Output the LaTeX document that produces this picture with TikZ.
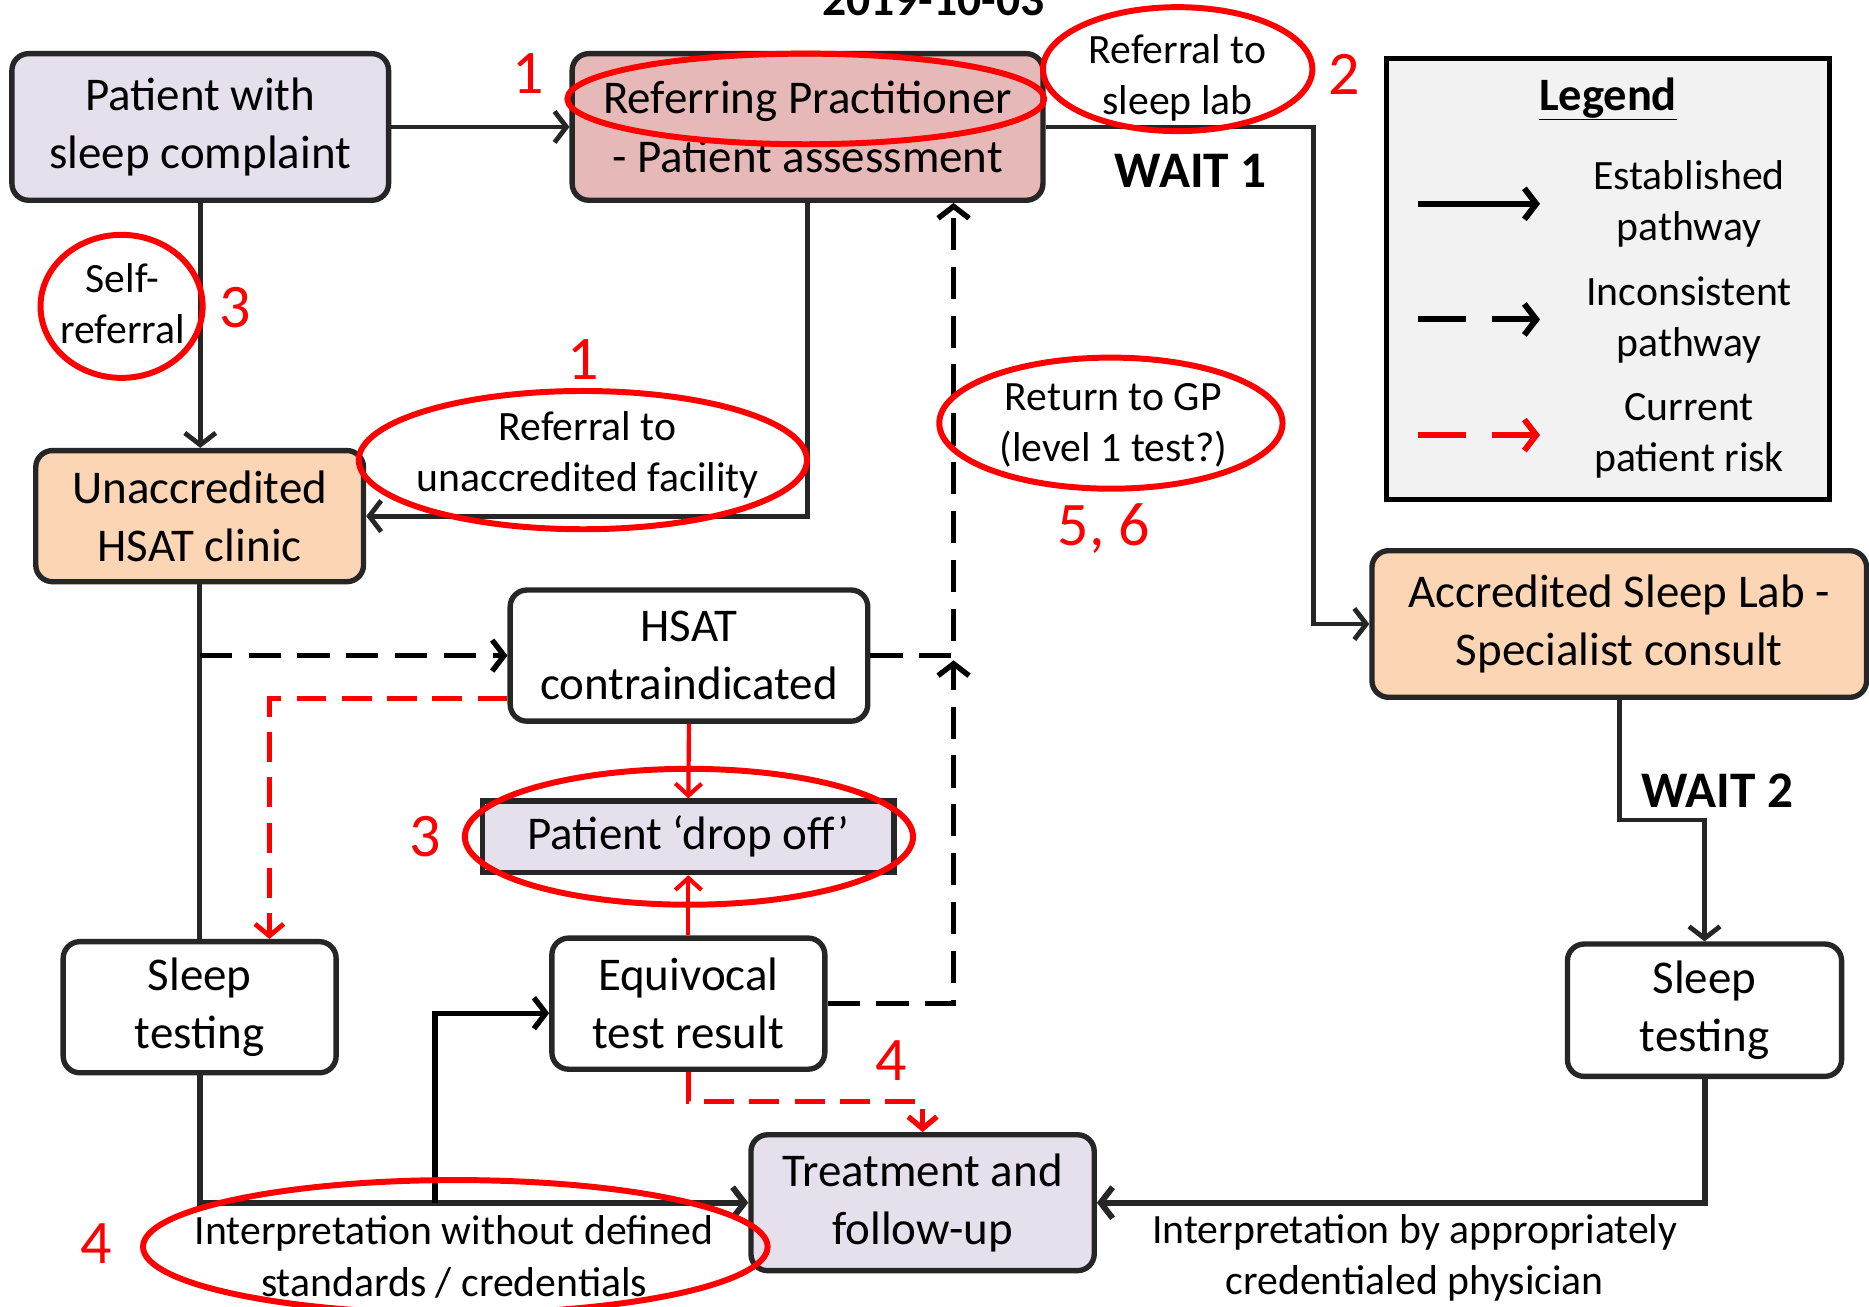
\documentclass[tikz,border=0pt]{standalone}
\usepackage{fontspec}
\setmainfont{Carlito}
\usetikzlibrary{arrows.meta,shapes.geometric,calc}
\definecolor{lav}{HTML}{E6E0EC}
\definecolor{pinkb}{HTML}{E6B9B8}
\definecolor{peach}{HTML}{FCD5B5}
\definecolor{leg}{HTML}{F2F2F2}
\definecolor{dk}{HTML}{262626}
\definecolor{rd}{HTML}{FF0000}
\begin{document}
\begin{tikzpicture}[x=1pt,y=-1pt,
 box/.style={draw=dk, line width=4.5pt, rounded corners=14pt, inner sep=0pt, align=center, font=\fontsize{39.4}{49}\selectfont},
 lbl/.style={inner sep=0pt, align=center, font=\fontsize{35}{43}\selectfont},
 num/.style={inner sep=0pt, text=rd, font=\fontsize{52}{60}\selectfont},
 wait/.style={inner sep=0pt, font=\fontsize{43}{50}\selectfont\bfseries},
 redell/.style={draw=rd, line width=5pt, ellipse, inner sep=0pt},
 conn/.style={draw=dk, line width=4pt, -{Straight Barb[length=10pt,width=26pt]}},
 plainln/.style={draw=dk, line width=4pt},
 dsh/.style={draw=black, line width=4.5pt, dash pattern=on 27pt off 14pt, -{Straight Barb[length=10pt,width=26pt]}},
 rdsh/.style={draw=rd, line width=4pt, dash pattern=on 25pt off 13pt, -{Straight Barb[length=10pt,width=24pt]}},
 rsol/.style={draw=rd, line width=3.5pt, -{Straight Barb[length=10pt,width=22pt]}},
]
\useasboundingbox (0,0) rectangle (1568,1096);
\fill[white] (0,0) rectangle (1568,1096);
\clip (0,0) rectangle (1568,1096);

% title (cut at the top, as in the reference)
\node[font=\fontsize{40}{48}\selectfont\bfseries, anchor=base, inner sep=0pt] (title) at (783,12.6) {2019-10-03};

% boxes
\node[box, fill=lav, minimum width=316pt, minimum height=123pt] (A) at (168,106.5) {Patient with\\sleep complaint};
\node[box, fill=pinkb, minimum width=395pt, minimum height=123pt] (B) at (677.5,106.5) {Referring Practitioner\\- Patient assessment};
\node[box, fill=peach, minimum width=275pt, minimum height=110pt] (C) at (167.5,433) {Unaccredited\\HSAT clinic};
\node[box, fill=white, minimum width=300pt, minimum height=110pt] (D) at (578,550) {HSAT\\contraindicated};
\node[box, fill=lav, rounded corners=0pt, minimum width=345pt, minimum height=60pt] (E) at (577.5,702) {Patient ‘drop off’};
\node[box, fill=white, minimum width=229pt, minimum height=110pt] (F) at (167.5,845) {Sleep\\testing};
\node[box, fill=white, minimum width=229pt, minimum height=110pt] (G) at (577.5,842) {Equivocal\\test result};
\node[box, fill=lav, minimum width=288pt, minimum height=114pt] (H) at (774,1009) {Treatment and\\follow-up};
\node[box, fill=peach, minimum width=415pt, minimum height=123pt] (I) at (1358.5,523.5) {Accredited Sleep Lab -\\Specialist consult};
\node[box, fill=white, minimum width=230pt, minimum height=111pt] (J) at (1430,847.5) {Sleep\\testing};

% legend
\node[draw=black, fill=leg, line width=4.5pt, minimum width=372pt, minimum height=370pt, inner sep=0pt] (legend) at (1349,234) {};
\node[inner sep=0pt, font=\fontsize{39}{46}\selectfont\bfseries] (legtitle) at (1349,83) {\underline{Legend}};
\node[lbl] (leg1) at (1417,171) {Established\\pathway};
\node[lbl] (leg2) at (1417,268.5) {Inconsistent\\pathway};
\node[lbl] (leg3) at (1417,365.5) {Current\\patient risk};
\coordinate (l1a) at (1190,171); \coordinate (l1b) at (1292,171);
\coordinate (l2a) at (1190,268); \coordinate (l2b) at (1292,268);
\coordinate (l3a) at (1190,365); \coordinate (l3b) at (1292,365);
\draw[conn, draw=black, line width=5pt] (l1a) -- (l1b);
\draw[dsh, line width=5pt, dash pattern=on 40pt off 22pt] (l2a) -- (l2b);
\draw[rdsh, line width=5pt, dash pattern=on 40pt off 22pt, -{Straight Barb[length=10pt,width=26pt]}] (l3a) -- (l3b);

% helper coordinates
\coordinate (k1) at (1102,0);
\coordinate (k3) at (800,0);
\coordinate (k4) at (226,0);
\coordinate (k5) at (0,924);
\coordinate (k6) at (365,0);
\coordinate (k7) at (0,688);

% connectors
\draw[conn] (A.east) -- (B.west);
\draw[conn] (B.east) -- (B.east -| k1) -- (k1 |- I.west) -- (I.west);
\draw[conn] (A.south) -- (A.south |- C.north);
\draw[conn] (B.south) -- (B.south |- C.east) -- (C.east);
\draw[plainln] (C.south) -- (C.south |- F.north);
\draw[conn, line width=5pt] (F.south) -- (F.south |- H.west) -- (H.west);
\draw[dsh] (C.south |- D.west) -- (D.west);
\draw[dsh] (D.east) -- (k3 |- D.east) -- (k3 |- B.south);
\draw[dsh] (G.east) -- (k3 |- G.east) -- ([yshift=-4pt]k3 |- D.east);
\draw[rdsh] ([yshift=-36pt]D.west) -| (k4 |- F.north);
\draw[rsol] (D.south) -- (E.north);
\draw[rsol] (G.south |- G.north) -- (E.south);
\draw[rdsh, line width=4.5pt] (G.south) |- (k5 -| H.north) -- (H.north);
\draw[conn, draw=black, line width=4.5pt] (k6 |- H.west) |- ([yshift=-8pt]G.west);
\draw[conn, line width=5pt] (J.south) -- (J.south |- H.east) -- (H.east);
\draw[conn] (I.south) -- (I.south |- k7) -| (J.north);

% labels
\node[lbl] (t1) at (988,65.5) {Referral to\\sleep lab};
\node[wait] (w1) at (999,143) {WAIT 1};
\node[lbl] (t2) at (103,255) {Self-\\referral};
\node[lbl] (t3) at (493,381.5) {Referral to\\unaccredited facility};
\node[lbl] (t4) at (934,357) {Return to GP\\(level 1 test?)};
\node[wait] (w2) at (1441,663) {WAIT 2};
\node[lbl] (t5) at (381,1054.5) {Interpretation without defined\\standards / credentials};
\node[lbl] (t6) at (1187,1055) {Interpretation by appropriately\\credentialed physician};

% red ellipses
\node[redell, minimum width=400pt, minimum height=76pt] (e1) at (676,83) {};
\node[redell, minimum width=226pt, minimum height=104pt] (e2) at (988,58) {};
\node[redell, minimum width=136pt, minimum height=120pt] (e3) at (102,257) {};
\node[redell, minimum width=376pt, minimum height=116pt] (e4) at (489,386) {};
\node[redell, minimum width=288pt, minimum height=110pt] (e5) at (932,355) {};
\node[redell, minimum width=376pt, minimum height=114pt] (e6) at (578,702) {};
\node[redell, minimum width=524pt, minimum height=112pt] (e7) at (382,1046) {};

% red numbers
\node[num] (n1) at (443,62) {1};
\node[num] (n2) at (1128,62) {2};
\node[num] (n3) at (197,258) {3};
\node[num] (n4) at (489,302) {1};
\node[num] (n5) at (926,443) {5, 6};
\node[num] (n6) at (357,702) {3};
\node[num] (n7) at (748,890) {4};
\node[num] (n8) at (81,1043) {4};
\end{tikzpicture}
\end{document}
